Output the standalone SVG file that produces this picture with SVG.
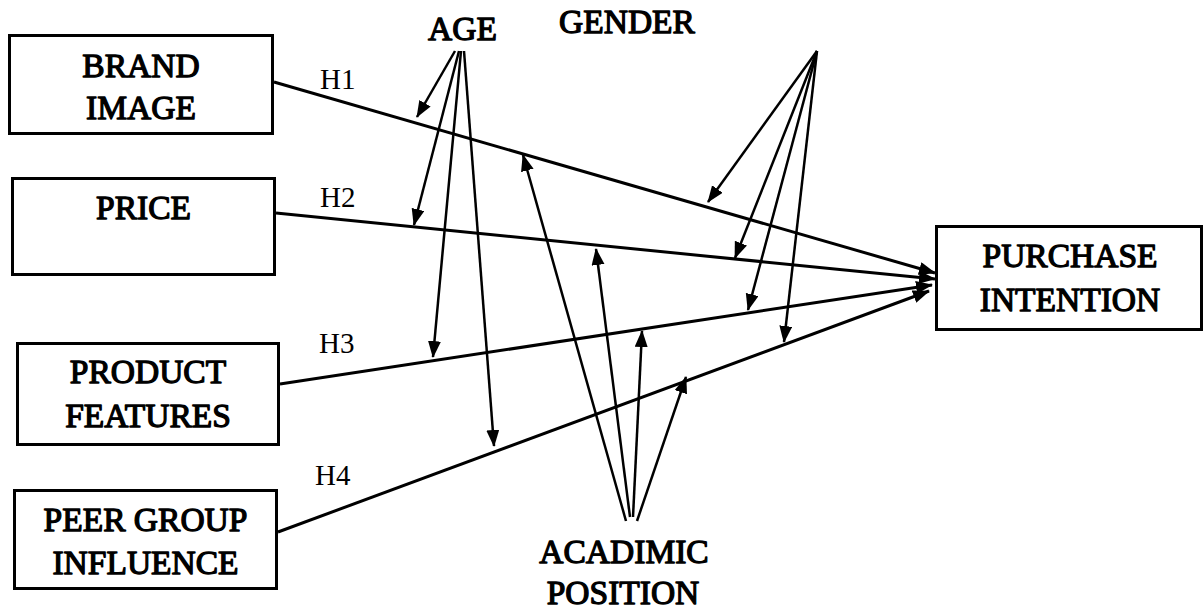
<svg xmlns="http://www.w3.org/2000/svg" width="1204" height="609" viewBox="0 0 1204 609">
<style>
.box{fill:#fff;stroke:#000;stroke-width:3}
.lbl{font-family:"Liberation Serif","Times New Roman",serif;font-weight:normal;font-size:33.5px;fill:#000;stroke:#000;stroke-width:1.3;stroke-linejoin:round;text-anchor:middle}
.h{font-family:"Liberation Serif","Times New Roman",serif;font-size:29px;fill:#000}
.main{stroke:#000;stroke-width:3;fill:none;marker-end:url(#ah)}
.mod{stroke:#000;stroke-width:2.5;fill:none;marker-end:url(#ah)}
</style>
<defs>
<marker id="ah" markerUnits="userSpaceOnUse" markerWidth="17" markerHeight="14" refX="16" refY="6.5" orient="auto">
<path d="M0,0 L17,6.5 L0,13 z" fill="#000"/>
</marker>
</defs>
<rect width="1204" height="609" fill="#fff"/>
<g id="connectors">
<line class="main" x1="274" y1="82" x2="935" y2="273"/>
<line class="main" x1="276" y1="213" x2="935" y2="279"/>
<line class="main" x1="280" y1="384" x2="932" y2="285"/>
<line class="main" x1="278" y1="532" x2="929" y2="291"/>
<line class="mod" x1="455" y1="51" x2="417" y2="117"/>
<line class="mod" x1="459" y1="51" x2="414" y2="225"/>
<line class="mod" x1="461" y1="51" x2="433" y2="357"/>
<line class="mod" x1="464" y1="51" x2="494" y2="446"/>
<line class="mod" x1="817" y1="51" x2="708" y2="202"/>
<line class="mod" x1="817" y1="51" x2="735" y2="258"/>
<line class="mod" x1="817" y1="51" x2="748" y2="310"/>
<line class="mod" x1="817" y1="51" x2="784" y2="342"/>
<line class="mod" x1="626" y1="521" x2="523" y2="155"/>
<line class="mod" x1="630" y1="517" x2="596" y2="249"/>
<line class="mod" x1="633" y1="517" x2="642" y2="331"/>
<line class="mod" x1="637" y1="521" x2="686" y2="377"/>
<text class="h" x="320" y="89">H1</text>
<text class="h" x="320" y="207">H2</text>
<text class="h" x="319" y="353">H3</text>
<text class="h" x="315" y="485">H4</text>
</g>
<g id="brand-image">
<rect class="box" x="9.5" y="35.5" width="263" height="98"/>
<text class="lbl" x="141" y="77">BRAND</text>
<text class="lbl" x="141" y="119">IMAGE</text>
</g>
<g id="price">
<rect class="box" x="12.5" y="178.5" width="262" height="96"/>
<text class="lbl" x="143.5" y="219">PRICE</text>
</g>
<g id="product-features">
<rect class="box" x="17.5" y="343.5" width="261" height="101"/>
<text class="lbl" x="148" y="383">PRODUCT</text>
<text class="lbl" x="148" y="427">FEATURES</text>
</g>
<g id="peer-group-influence">
<rect class="box" x="14.5" y="490.5" width="262" height="98"/>
<text class="lbl" x="145.5" y="531">PEER GROUP</text>
<text class="lbl" x="145.5" y="574">INFLUENCE</text>
</g>
<g id="purchase-intention">
<rect class="box" x="936.5" y="226.5" width="265" height="103"/>
<text class="lbl" x="1070" y="267">PURCHASE</text>
<text class="lbl" x="1070" y="311">INTENTION</text>
</g>
<g id="age">
<text class="lbl" x="462.5" y="40">AGE</text>
</g>
<g id="gender">
<text class="lbl" x="627" y="33">GENDER</text>
</g>
<g id="acadimic-position">
<text class="lbl" x="624" y="563">ACADIMIC</text>
<text class="lbl" x="623" y="604">POSITION</text>
</g>
</svg>
